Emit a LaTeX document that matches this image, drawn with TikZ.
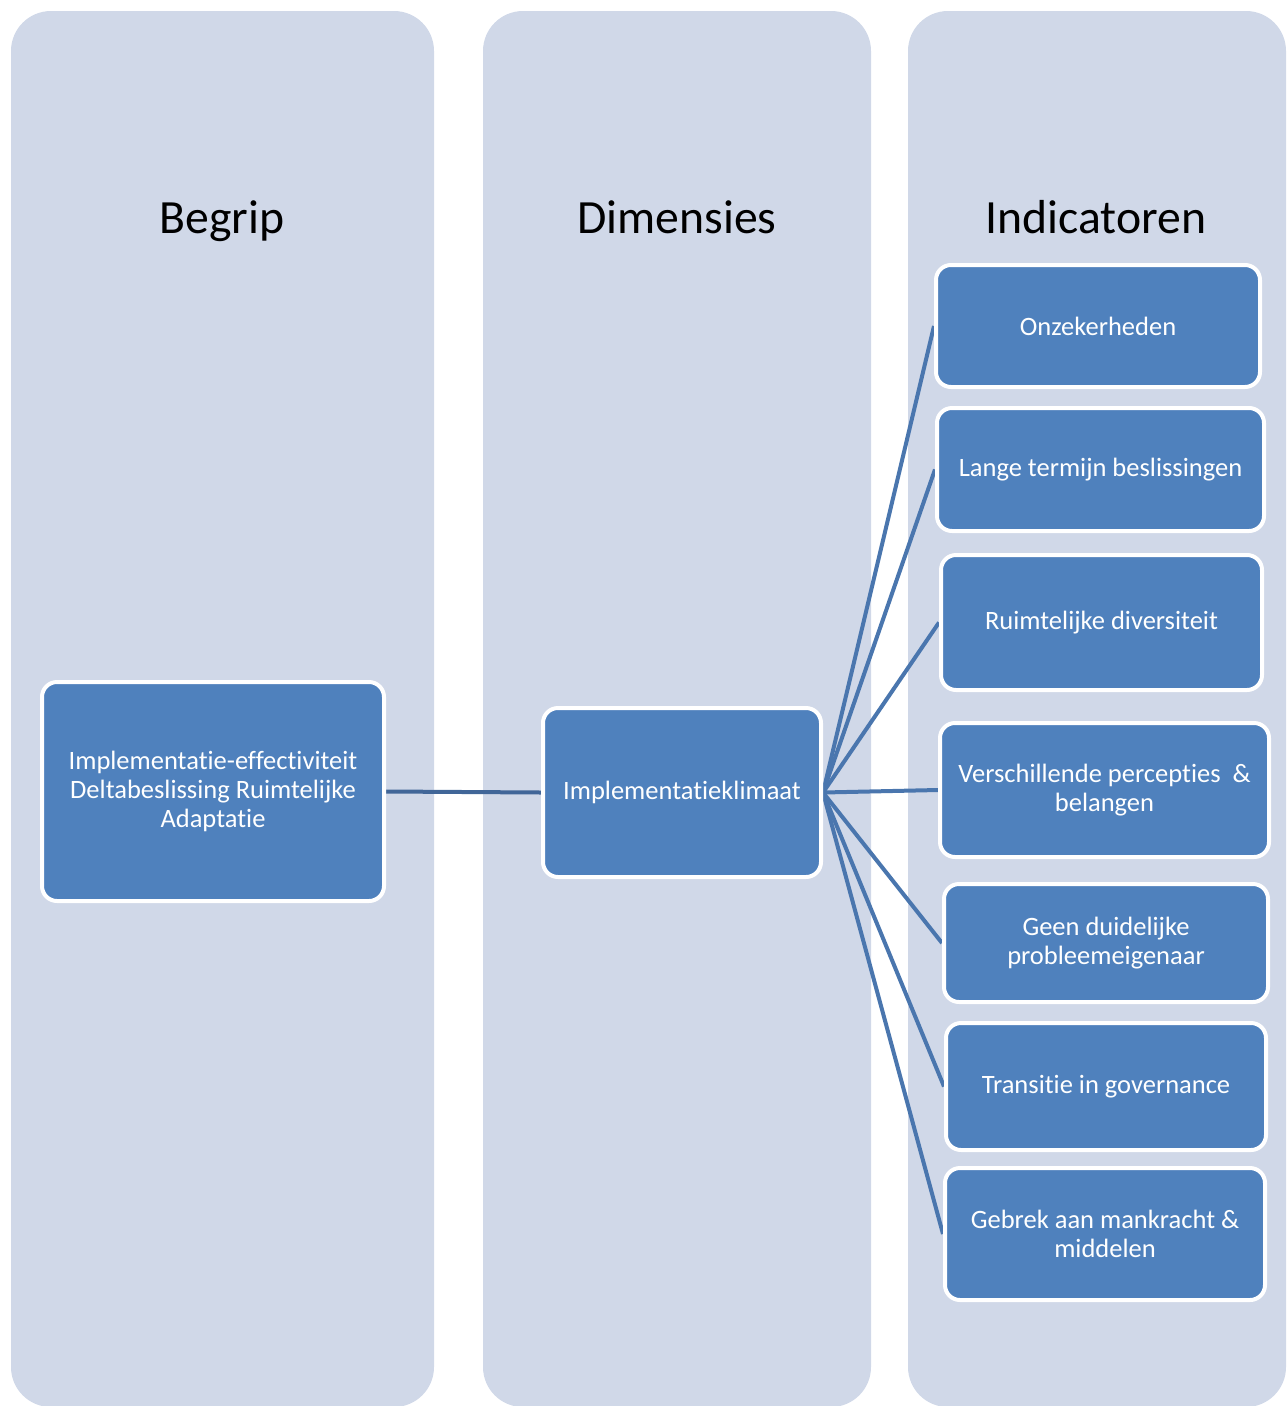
\documentclass[tikz,border=0pt]{standalone}
\usepackage{fontspec}
\setmainfont{Carlito}[Ligatures={NoCommon}]
\usetikzlibrary{backgrounds}
\definecolor{colbg}{RGB}{208,216,232}
\definecolor{boxfill}{RGB}{79,129,189}
\definecolor{linkdark}{RGB}{65,102,152}
\definecolor{linkfan}{RGB}{74,118,174}
\tikzset{
  colshape/.style={fill=colbg, rounded corners=40pt},
  coltitle/.style={font=\fontsize{47.7}{52}\selectfont, text=black, anchor=base},
  ibox/.style={draw=white, line width=4pt, fill=boxfill, rounded corners=15pt,
    text=white, align=center, inner sep=2pt, font=\fontsize{26.5}{29}\selectfont},
  mainlink/.style={draw=linkdark, line width=4pt},
  fanlink/.style={draw=linkfan, line width=4pt}
}
\begin{document}
\begin{tikzpicture}[x=1pt,y=-1pt]
\useasboundingbox (0,0) rectangle (1286,1406);
\node[ibox, minimum width=342pt, minimum height=219pt] (b) at (213,791.5)
  {Implementatie-effectiviteit\\Deltabeslissing Ruimtelijke\\Adaptatie};
\node[ibox, minimum width=278pt, minimum height=169pt] (d) at (682,792.5)
  {Implementatieklimaat};
\node[ibox, minimum width=324pt, minimum height=122pt] (i1) at (1098,326) {Onzekerheden};
\node[ibox, minimum width=327pt, minimum height=123pt] (i2) at (1100.5,469.5) {Lange termijn beslissingen};
\node[ibox, minimum width=321pt, minimum height=135pt] (i3) at (1101.5,622.5) {Ruimtelijke diversiteit};
\node[ibox, minimum width=329pt, minimum height=134pt] (i4) at (1104.5,790) {Verschillende percepties\ \ \&\\belangen};
\node[ibox, minimum width=324pt, minimum height=118pt] (i5) at (1106,943) {Geen duidelijke\\probleemeigenaar};
\node[ibox, minimum width=320pt, minimum height=127pt] (i6) at (1106,1086.5) {Transitie in governance};
\node[ibox, minimum width=320pt, minimum height=132pt] (i7) at (1105,1234) {Gebrek aan mankracht \&\\middelen};
\begin{pgfonlayer}{background}
  \begin{scope}
    \clip (0,0) rectangle (1286,1406);
    \fill[colshape] (11,11) rectangle (434,1407);
    \fill[colshape] (483,11) rectangle (871,1407);
    \fill[colshape] (908,11) rectangle (1286,1407);
  \end{scope}
  \node[coltitle] (t1) at (222,233) {Begrip};
  \node[coltitle] (t2) at (677,233) {Dimensies};
  \node[coltitle] (t3) at (1096,233) {Indicatoren};
  \draw[mainlink] (b.east) -- (d.west);
  \foreach \k in {1,...,7} {\draw[fanlink] (d.east) -- (i\k.west);}
\end{pgfonlayer}
\end{tikzpicture}
\end{document}
